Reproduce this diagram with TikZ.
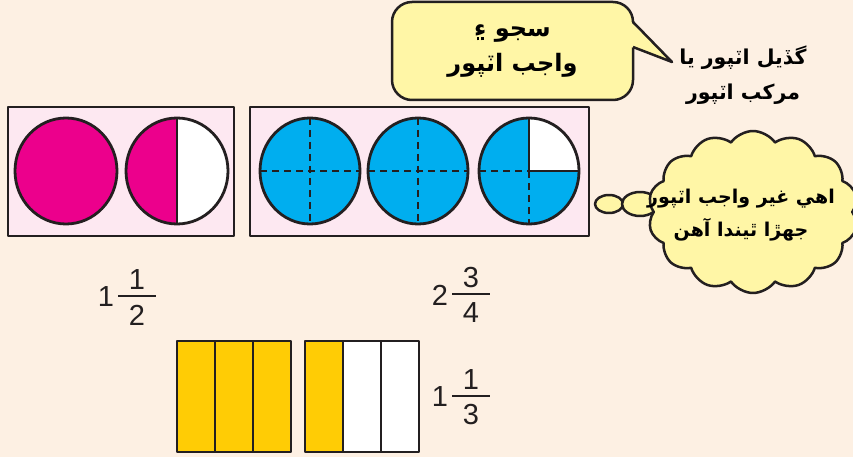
\documentclass[tikz,border=0pt]{standalone}
\usepackage{fontspec}
\setmainfont{Liberation Sans}
\newfontfamily\arabicfont[Script=Arabic]{DejaVu Sans}
\TeXXeTstate=1
\usepackage{tikz}
\usetikzlibrary{shapes.symbols,shapes.geometric,positioning,calc}
\definecolor{bgpeach}{RGB}{253,240,227}
\definecolor{panelpink}{RGB}{253,232,241}
\definecolor{edge}{RGB}{35,31,32}
\definecolor{magenta}{RGB}{236,0,140}
\definecolor{sky}{RGB}{0,174,239}
\definecolor{gold}{RGB}{255,204,5}
\definecolor{pale}{RGB}{255,246,166}
\newsavebox{\hamzabox}
\newcommand{\sindhiamp}{\sbox{\hamzabox}{ء}\hbox{\rlap{\usebox{\hamzabox}}\hbox to\wd\hamzabox{\hss\raisebox{-0.16em}{\rule{0.1em}{0.12em}\hspace{0.08em}\rule{0.1em}{0.12em}}\hss}}}

\begin{document}
\begin{tikzpicture}[x=1pt,y=-1pt,line join=round,
  panel/.style={draw=edge,line width=2.5pt,fill=panelpink},
  disc/.style={draw=edge,line width=2.8pt},
  cutline/.style={draw=edge,line width=2.2pt,dash pattern=on 7pt off 5pt},
  split/.style={draw=edge,line width=2.6pt},
  strip/.style={draw=edge,line width=2.5pt},
  fracbar/.style={draw=edge,line width=2.2pt},
  digit/.style={inner sep=0pt,text=edge,font=\fontsize{29}{34}\selectfont},
  urdu/.style={align=center,text=black,font=\arabicfont\bfseries\fontsize{19}{33}\selectfont},
  balloon/.style={draw=edge,line width=2.5pt,fill=pale}]
\useasboundingbox (0,0) rectangle (853,457);
\fill[bgpeach] (0,0) rectangle (853,457);

\draw[panel] (8,107) rectangle (234,236);
\draw[panel] (250,107) rectangle (589,236);

\coordinate (m1) at (66,171);
\coordinate (m2) at (177,171);
\fill[magenta] (m1) ellipse[x radius=51,y radius=53];
\fill[magenta] (m2) ellipse[x radius=51,y radius=53];
\fill[white] (177,118) arc[start angle=-90,end angle=90,x radius=51,y radius=53] -- cycle;
\draw[split] (177,118) -- (177,224);
\draw[disc] (m1) ellipse[x radius=51,y radius=53];
\draw[disc] (m2) ellipse[x radius=51,y radius=53];

\foreach \x [count=\i] in {310,418,529}{
  \coordinate (b\i) at (\x,171);
  \fill[sky] (b\i) ellipse[x radius=50,y radius=53];
}
\foreach \i in {1,2}{
  \draw[cutline] ($(b\i)+(-50,0)$) -- ($(b\i)+(50,0)$);
  \draw[cutline] ($(b\i)+(0,-53)$) -- ($(b\i)+(0,53)$);
}
\fill[white] (b3) -- (529,118) arc[start angle=-90,end angle=0,x radius=50,y radius=53] -- cycle;
\draw[cutline] ($(b3)+(-50,0)$) -- (b3);
\draw[cutline] (b3) -- ($(b3)+(0,53)$);
\draw[split] (529,118) -- (b3) -- (579,171);
\foreach \i in {1,2,3}
  \draw[disc] (b\i) ellipse[x radius=50,y radius=53];

\foreach \x/\c in {177/gold,215/gold,253/gold,305/gold,343/white,381/white}
  \draw[strip,fill=\c] (\x,341) rectangle ++(38,111);

\foreach \x/\y/\w/\n/\d [count=\i] in {106/297/1/1/2,440/295/2/3/4,440/397/1/1/3}{
  \node[digit] (w\i) at (\x,\y) {\w};
  \node[digit] (n\i) at (\x+31,\y-17) {\n};
  \node[digit] (d\i) at (\x+31,\y+18) {\d};
  \draw[fracbar] (\x+12,\y-1) -- (\x+50,\y-1);
}

\node[balloon,rounded corners=20,minimum width=241,minimum height=98,urdu,font=\arabicfont\bfseries\fontsize{24}{35}\selectfont] (say) at (512.5,51)
  {\beginR سجو \sindhiamp\endR\\\beginR واجب اٽپور\endR};
\coordinate (tip) at (672,62);
\fill[pale] (631,22) -- (tip) -- (631,47) -- cycle;
\draw[edge,line width=2.5pt] (633,22) -- (tip) -- (633,47);
\node[urdu,font=\arabicfont\bfseries\fontsize{20.5}{35}\selectfont] (kinds) at (743,75) {\beginR گڏيل اٽپور يا\endR\\\beginR مرکب اٽپور\endR};

\draw[balloon] (609,204) ellipse[x radius=14,y radius=9];
\draw[balloon] (640,204) ellipse[x radius=18,y radius=12];
\node[balloon,cloud,cloud puffs=14,cloud puff arc=110,aspect=1.3,minimum width=210,minimum height=162] (think) at (753,212) {};
\node[urdu] (thinktxt) at (741,215) {\beginR اهي غير واجب اٽپور\endR\\\beginR جهڙا ٿيندا آهن\endR};
\end{tikzpicture}
\end{document}
